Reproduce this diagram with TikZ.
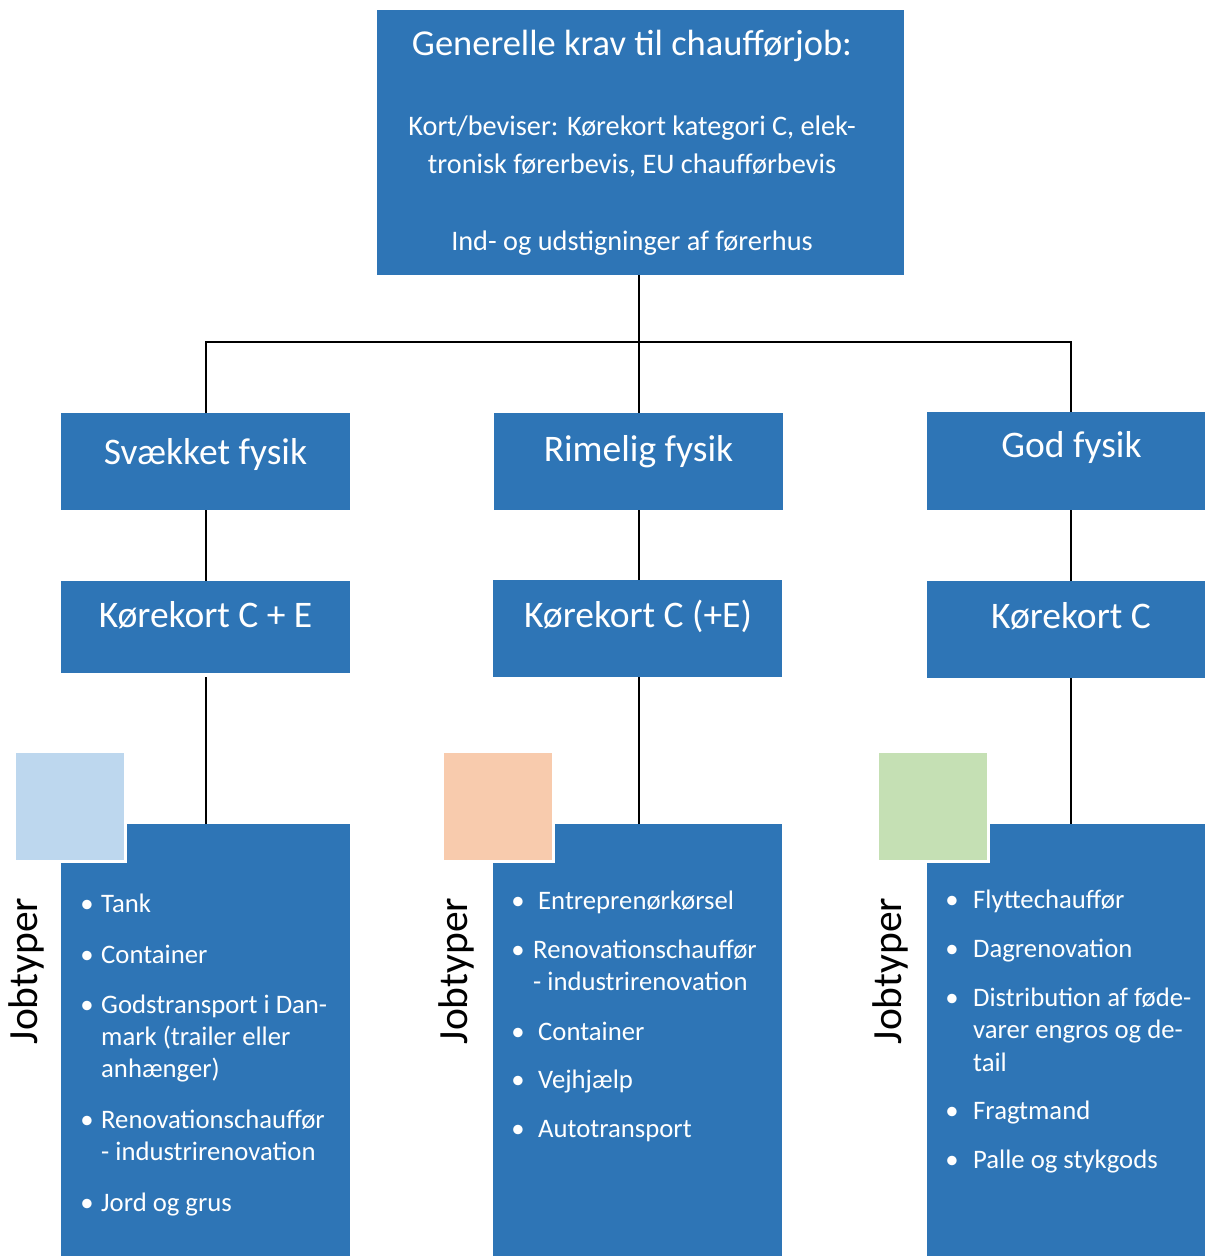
\documentclass[tikz,border=0pt]{standalone}
\usepackage{fontspec}
\setmainfont{Carlito}
\definecolor{boxblue}{HTML}{2E75B6}
\definecolor{sqblue}{HTML}{BDD7EE}
\definecolor{sqpeach}{HTML}{F8CBAD}
\definecolor{sqgreen}{HTML}{C5E0B4}
\tikzset{
  box/.style={fill=boxblue, draw=none, inner sep=0pt, outer sep=0pt, anchor=north west},
  sqbox/.style={draw=white, line width=3pt, inner sep=0pt, outer sep=0pt, anchor=north west, minimum width=111pt, minimum height=110pt},
  title/.style={text=white, inner sep=0pt, anchor=base, font=\fontsize{36.5}{44}\selectfont},
  big/.style={text=white, inner sep=0pt, anchor=base, font=\fontsize{37.5}{45}\selectfont},
  small/.style={text=white, inner sep=0pt, anchor=base, font=\fontsize{28.3}{34}\selectfont},
  item/.style={text=white, inner sep=0pt, anchor=base west, font=\fontsize{26.7}{32}\selectfont},
  bul/.style={text=white, inner sep=0pt, anchor=base, font=\fontsize{26.7}{32}\selectfont},
  side/.style={text=black, inner sep=0pt, rotate=90, font=\fontsize{41.5}{50}\selectfont},
  conn/.style={draw=black, line width=2pt}
}
\begin{document}
\begin{tikzpicture}[x=1pt,y=-1pt]
\useasboundingbox (0,0) rectangle (1205,1256);
% column coordinates
\coordinate (colL) at (206,0);
\coordinate (colM) at (639,0);
\coordinate (colR) at (1071,0);
\coordinate (bus) at (639,342);
% top box
\node[box, minimum width=527pt, minimum height=265pt] (top) at (377,10) {};
\node[title] (topT) at (632,55) {Generelle krav til chaufførjob:};
\node[small] (topA) at (632,135) {Kort/beviser: Kørekort kategori C, elek-};
\node[small] (topB) at (632,173) {tronisk førerbevis, EU chaufførbevis};
\node[small] (topC) at (632,250) {Ind- og udstigninger af førerhus};
% level 2
\node[box, minimum width=289pt, minimum height=97pt] (svk) at (61,413) {};
\node[box, minimum width=289pt, minimum height=97pt] (rim) at (494,413) {};
\node[box, minimum width=278pt, minimum height=98pt] (god) at (927,412) {};
\node[big] (svkT) at (205.5,464) {Svækket fysik};
\node[big] (rimT) at (638.5,461) {Rimelig fysik};
\node[big] (godT) at (1071.5,457) {God fysik};
% level 3
\node[box, minimum width=289pt, minimum height=92pt] (kce) at (61,581) {};
\node[box, minimum width=289pt, minimum height=97pt] (kcpe) at (493,580) {};
\node[box, minimum width=278pt, minimum height=97pt] (kc) at (927,581) {};
\node[big] (kceT) at (205.5,627) {Kørekort C + E};
\node[big] (kcpeT) at (638,627) {Kørekort C (+E)};
\node[big] (kcT) at (1071,628) {Kørekort C};
% bottom boxes
\node[box, minimum width=289pt, minimum height=432pt] (jobL) at (61,824) {};
\node[box, minimum width=289pt, minimum height=432pt] (jobM) at (493,824) {};
\node[box, minimum width=278pt, minimum height=432pt] (jobR) at (927,824) {};
% squares
\node[sqbox, fill=sqblue] (sqL) at (14,751) {};
\node[sqbox, fill=sqpeach] (sqM) at (442,751) {};
\node[sqbox, fill=sqgreen] (sqR) at (877,751) {};
% side labels
\node[side] (sideL) at (26,971) {Jobtyper};
\node[side] (sideM) at (456,971) {Jobtyper};
\node[side] (sideR) at (890,971) {Jobtyper};
% connectors
\draw[conn] (top.south -| colM) -- (bus);
\draw[conn] (svk.north -| colL) |- (bus) -| (god.north -| colR);
\draw[conn] (bus) -- (rim.north -| colM);
\draw[conn] (svk.south -| colL) -- (kce.north -| colL);
\draw[conn] (rim.south -| colM) -- (kcpe.north -| colM);
\draw[conn] (god.south -| colR) -- (kc.north -| colR);
\draw[conn, shorten <=4pt] (kce.south -| colL) -- (jobL.north -| colL);
\draw[conn] (kcpe.south -| colM) -- (jobM.north -| colM);
\draw[conn] (kc.south -| colR) -- (jobR.north -| colR);
% left list
\foreach \y in {912,963,1013,1128,1211} {\node[bul] at (87,\y) {•};}
\node[item] (l1) at (101,912) {Tank};
\node[item] (l2) at (101,963) {Container};
\node[item] (l3a) at (101,1013) {Godstransport i Dan-};
\node[item] (l3b) at (101,1045) {mark (trailer eller};
\node[item] (l3c) at (101,1077) {anhænger)};
\node[item] (l4a) at (101,1128) {Renovationschauffør};
\node[item] (l4b) at (101,1160) {- industrirenovation};
\node[item] (l5) at (101,1211) {Jord og grus};
% middle list
\foreach \y in {909,958,1040,1088,1137} {\node[bul] at (518,\y) {•};}
\node[item] (m1) at (538,909) {Entreprenørkørsel};
\node[item] (m2a) at (533,958) {Renovationschauffør};
\node[item] (m2b) at (533,990) {- industrirenovation};
\node[item] (m3) at (538,1040) {Container};
\node[item] (m4) at (538,1088) {Vejhjælp};
\node[item] (m5) at (538,1137) {Autotransport};
% right list
\foreach \y in {908,957,1006,1119,1168} {\node[bul] at (952,\y) {•};}
\node[item] (r1) at (973,908) {Flyttechauffør};
\node[item] (r2) at (973,957) {Dagrenovation};
\node[item] (r3a) at (973,1006) {Distribution af føde-};
\node[item] (r3b) at (973,1038) {varer engros og de-};
\node[item] (r3c) at (973,1071) {tail};
\node[item] (r4) at (973,1119) {Fragtmand};
\node[item] (r5) at (973,1168) {Palle og stykgods};
\end{tikzpicture}
\end{document}
